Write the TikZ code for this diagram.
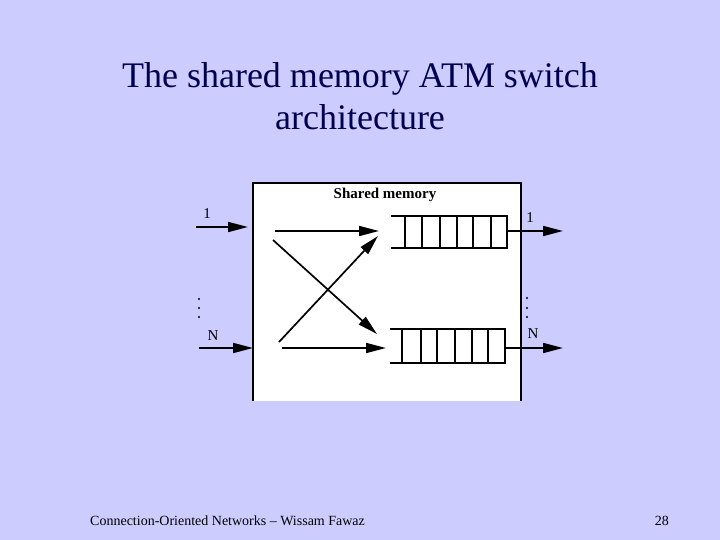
\documentclass[tikz,border=0pt]{standalone}
\usepackage{fontspec}
\setmainfont{Liberation Serif}
\usetikzlibrary{arrows.meta}
\definecolor{slidebg}{RGB}{204,204,255}
\definecolor{titlenavy}{RGB}{0,0,80}
\tikzset{
  bigarrow/.style={line width=1.7pt,-{Triangle[length=20pt,width=10pt]}},
  qline/.style={line width=1.6pt},
  lbl/.style={font=\fontsize{15}{15}\selectfont,inner sep=0pt},
  dotmark/.style={circle,fill=black,inner sep=0pt,minimum size=2.4pt},
}
\begin{document}
\begin{tikzpicture}[x=1pt,y=-1pt]
\fill[slidebg] (0,0) rectangle (720,540);
\useasboundingbox (0,0) rectangle (720,540);
% title
\node[text=titlenavy,font=\fontsize{36}{42}\selectfont,align=center] (title) at (360,96)
  {The shared memory ATM switch\\architecture};
% footer
\node[font=\fontsize{14}{14}\selectfont,anchor=west,inner sep=0pt] (footer) at (90,521)
  {Connection-Oriented Networks – Wissam Fawaz};
\node[font=\fontsize{14}{14}\selectfont,anchor=east,inner sep=0pt] (page) at (669,521) {28};
% shared memory box
\fill[white] (253,183) rectangle (521,401);
\draw[line width=1.2pt] (253,401) -- (253,183) -- (521,183) -- (521,401);
\node[font=\bfseries\fontsize{15}{15}\selectfont,inner sep=0pt] (smlabel) at (385,195) {Shared memory};
% inputs
\coordinate (in1s) at (196,227);
\coordinate (in1e) at (248,227);
\coordinate (inNs) at (199,348);
\coordinate (inNe) at (253,348);
\draw[bigarrow] (in1s) -- (in1e);
\draw[bigarrow] (inNs) -- (inNe);
\node[lbl] (l1) at (207,214) {1};
\node[lbl] (lN) at (213,336) {N};
\node[dotmark] (ld1) at (199,299) {};
\node[dotmark] (ld2) at (199,308) {};
\node[dotmark] (ld3) at (199,317) {};
% internal arrows
\coordinate (a1s) at (275,231);
\coordinate (a1e) at (379,231);
\coordinate (a2s) at (273,240);
\coordinate (a2e) at (377,334);
\coordinate (a3s) at (279,342);
\coordinate (a3e) at (378,236);
\coordinate (a4s) at (282,348);
\coordinate (a4e) at (386,348);
\draw[bigarrow] (a1s) -- (a1e);
\draw[bigarrow] (a2s) -- (a2e);
\draw[bigarrow] (a3s) -- (a3e);
\draw[bigarrow] (a4s) -- (a4e);
% top queue
\draw[qline] (391,216) -- (405,216);
\draw[qline] (391,248) -- (405,248);
\draw[qline] (405,216) rectangle (507,248);
\foreach \x in {422,440,457,473,491} \draw[qline] (\x,216) -- (\x,248);
% bottom queue
\draw[qline] (390,329) -- (402,329);
\draw[qline] (390,363) -- (402,363);
\draw[qline] (402,329) rectangle (505,363);
\foreach \x in {421,437,455,472,488} \draw[qline] (\x,329) -- (\x,363);
% outputs
\coordinate (o1s) at (507,231);
\coordinate (o1e) at (563,231);
\coordinate (oNs) at (505,348);
\coordinate (oNe) at (563,348);
\draw[bigarrow] (o1s) -- (o1e);
\draw[bigarrow] (oNs) -- (oNe);
\node[lbl] (r1) at (530,218) {1};
\node[lbl] (rN) at (533,334) {N};
\node[dotmark] (rd1) at (527,298) {};
\node[dotmark] (rd2) at (527,308) {};
\node[dotmark] (rd3) at (527,317) {};
\end{tikzpicture}
\end{document}
